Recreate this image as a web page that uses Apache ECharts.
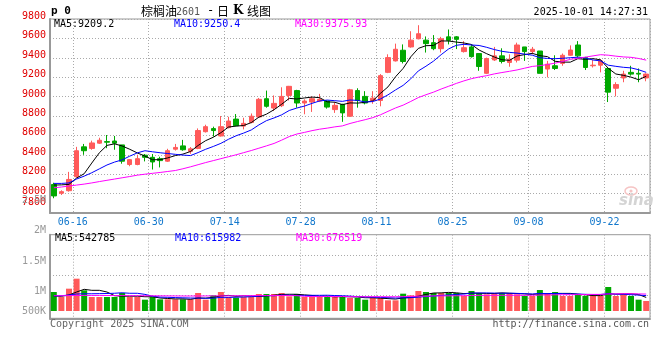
<!DOCTYPE html>
<html><head><meta charset="utf-8">
<script src="https://cdn.jsdelivr.net/npm/echarts@6.0.0/dist/echarts.min.js"></script>
<style>html,body{margin:0;padding:0;background:#fff}#c{width:660px;height:360px}</style>
</head><body><div id="c"></div>
<script>
const dates = ['06-12','06-13','06-16','06-17','06-18','06-19','06-20','06-23','06-24','06-25','06-26','06-27','06-30',
'07-01','07-02','07-03','07-04','07-07','07-08','07-09','07-10','07-11','07-14','07-15','07-16','07-17','07-18','07-21','07-22','07-23','07-24','07-25','07-28','07-29','07-30','07-31',
'08-01','08-04','08-05','08-06','08-07','08-08','08-11','08-12','08-13','08-14','08-15','08-18','08-19','08-20','08-21','08-22','08-25','08-26','08-27','08-28','08-29',
'09-01','09-02','09-03','09-04','09-05','09-08','09-09','09-10','09-11','09-12','09-15','09-16','09-17','09-18','09-19','09-22','09-23','09-24','09-25','09-26','09-29','09-30'];
const dateLabels = ['06-16','06-30','07-14','07-28','08-11','08-25','09-08','09-22'];

const opens  = [8094,8004,8030,8174,8482,8466,8520,8536,8542,8502,8300,8300,8396,8374,8360,8334,8458,8492,8436,8466,8638,8670,8594,8680,8768,8696,8734,8790,8978,8882,8906,9012,9062,8934,8944,8954,8954,8866,8920,8798,9062,9002,8960,8960,9250,9368,9478,9512,9596,9582,9556,9494,9616,9616,9464,9512,9444,9240,9378,9420,9352,9376,9512,9464,9470,9284,9318,9342,9426,9532,9402,9318,9324,9290,9086,9192,9250,9240,9192];
const closes = [7976,8020,8146,8442,8442,8522,8550,8530,8520,8334,8350,8360,8374,8326,8340,8442,8476,8452,8462,8650,8690,8650,8690,8748,8700,8724,8798,8972,8900,8930,9002,9106,8934,8954,8978,8972,8892,8910,8832,9070,8960,8934,8984,9216,9402,9488,9362,9582,9648,9546,9494,9596,9580,9590,9504,9412,9310,9392,9420,9362,9386,9532,9464,9488,9240,9334,9290,9426,9480,9420,9300,9324,9368,9046,9124,9232,9232,9232,9232];
const lows   = [7952,7986,8020,8164,8400,8452,8512,8468,8452,8308,8282,8292,8332,8248,8270,8326,8444,8442,8410,8458,8630,8588,8588,8672,8696,8662,8724,8784,8886,8852,8892,8960,8886,8818,8842,8944,8876,8832,8740,8790,8886,8920,8926,8900,9242,9362,9342,9504,9590,9454,9478,9454,9538,9490,9454,9402,9266,9232,9368,9342,9308,9352,9368,9436,9240,9198,9274,9318,9420,9402,9274,9300,9250,8944,9002,9148,9216,9148,9158];
const highs  = [8112,8034,8224,8482,8512,8546,8576,8604,8594,8502,8356,8400,8408,8408,8380,8462,8512,8554,8480,8672,8710,8690,8800,8792,8820,8782,8826,8986,9062,9012,9096,9110,9070,8972,9002,9028,8960,8944,8926,9080,9086,9056,9056,9232,9436,9546,9538,9674,9736,9620,9634,9616,9692,9624,9572,9538,9444,9402,9512,9498,9436,9556,9512,9512,9470,9368,9426,9444,9528,9572,9410,9376,9386,9290,9148,9266,9318,9290,9240];

const ma5  = [8088,8090,8095,8160,8205,8315,8421,8497,8513,8491,8457,8419,8387,8349,8350,8368,8392,8407,8434,8496,8546,8581,8628,8686,8696,8702,8732,8788,8819,8865,8921,8982,8975,8986,8995,8989,8946,8942,8917,8935,8933,8941,8956,9033,9100,9205,9291,9410,9497,9525,9527,9574,9573,9562,9553,9537,9480,9442,9408,9380,9374,9419,9433,9446,9422,9412,9364,9356,9355,9391,9384,9391,9379,9292,9233,9219,9201,9174,9209];
const ma10 = [8105,8105,8110,8150,8180,8215,8255,8295,8325,8348,8386,8420,8442,8431,8421,8413,8405,8397,8392,8423,8457,8486,8518,8560,8596,8624,8656,8708,8752,8780,8812,8857,8882,8902,8930,8955,8964,8958,8951,8965,8961,8944,8949,8975,9018,9069,9116,9183,9265,9313,9366,9432,9492,9529,9539,9532,9527,9508,9485,9467,9456,9449,9438,9427,9401,9393,9391,9395,9401,9406,9398,9377,9368,9324,9312,9302,9296,9277,9250];
const ma30 = [8060,8068,8078,8088,8098,8110,8124,8137,8150,8163,8176,8190,8200,8209,8218,8228,8238,8256,8276,8298,8320,8340,8360,8380,8400,8422,8444,8468,8492,8517,8551,8588,8614,8631,8649,8664,8675,8688,8698,8723,8743,8762,8783,8812,8848,8883,8912,8950,8990,9019,9046,9078,9107,9136,9162,9185,9202,9216,9234,9248,9261,9275,9293,9311,9319,9331,9345,9362,9384,9395,9407,9420,9432,9427,9417,9409,9405,9393,9376];

// volume in thousands
const volumes = [760,560,893,1293,827,560,560,560,560,720,560,560,453,560,467,467,467,467,467,720,453,627,760,560,533,560,560,680,680,680,720,587,680,560,560,560,600,560,600,520,520,453,560,520,427,427,693,627,800,760,720,720,720,720,600,800,720,667,720,720,720,667,600,600,840,720,760,600,600,680,600,600,600,960,600,680,600,453,400];
const volMa5  = [600,590,640,760,867,827,827,760,613,592,592,592,571,571,520,501,483,486,467,518,515,547,605,624,587,608,595,579,603,632,664,669,669,645,621,589,592,568,576,568,560,531,531,515,496,477,525,539,595,661,720,725,744,728,696,712,712,701,701,725,709,699,685,661,685,685,704,704,704,672,648,616,616,688,672,688,688,659,543];
const volMa10 = [610,610,640,680,690,690,695,700,710,729,709,709,665,592,556,547,537,528,519,519,508,515,546,546,552,561,571,592,613,609,636,632,624,624,627,627,631,619,611,595,575,561,549,545,532,519,528,535,555,579,599,625,641,661,679,716,719,723,715,711,711,705,693,681,705,697,701,695,683,679,667,660,660,696,672,668,652,637,616];
const volMa30 = [610,612,615,620,622,622,622,620,618,616,614,612,610,608,606,604,602,600,600,600,602,604,606,608,610,612,614,616,618,619,618,619,612,587,578,578,580,580,581,574,573,569,573,572,570,569,576,582,593,594,603,606,605,610,612,620,626,625,627,628,628,631,628,629,639,644,649,651,651,656,659,664,665,680,685,694,691,685,677];

const priceMin = 7800, priceMax = 9800, priceStep = 200;
const volTickLabels = ['2.5M','2M','1.5M','1M','500K'];
const maTexts = ['MA5:9209.2','MA10:9250.4','MA30:9375.93'];
const volMaTexts = ['MA5:542785','MA10:615982','MA30:676519'];

// ---- styling ----
const RED = '#ff5a5a', GREEN = '#00a800';
const MA_COLORS = ['#000000','#0000ff','#ff00ff'];
const MONO = '"DejaVu Sans Mono", monospace';
const CJK = '"Noto Sans CJK SC", sans-serif';
const GRIDC = '#aaaaaa', BORDERC = '#999999';
const volLabelY = [200, 230.5, 261, 291, 311];
const maX = [54, 174, 295];

const labelIdx = dateLabels.map(d => dates.indexOf(d));
const dotted = {color: GRIDC, width: 1, type: [1, 2]};

const chart = echarts.init(document.getElementById('c'), null, {renderer: 'canvas'});

const graphics = [];
function txt(text, x, y, fill, font, align) {
  graphics.push({type: 'text', x: x, y: y, silent: true, z: 100,
    style: {text: text, fill: fill, font: font, align: align || 'left', verticalAlign: 'middle'}});
}
txt('p 0', 51, 11, '#000', 'bold 11px ' + MONO);
txt('棕榈油', 141, 11, '#000', '12px ' + CJK);
txt('2601', 176, 12, '#555', '10px ' + MONO);
txt('-', 207, 11, '#000', '12px ' + MONO);
txt('日', 217, 11, '#000', '12px ' + CJK);
txt('K', 233, 11, '#000', 'bold 12px "DejaVu Serif", serif');
txt('线图', 247, 11, '#000', '12px ' + CJK);
txt('2025-10-01 14:27:31', 648, 12, '#000', '10px ' + MONO, 'right');
maTexts.forEach((t, k) => txt(t, maX[k], 24, MA_COLORS[k], '10px ' + MONO));
volMaTexts.forEach((t, k) => txt(t, maX[k] + 1, 238.7, MA_COLORS[k], '10px ' + MONO));
volTickLabels.forEach((t, k) => txt(t, 46, volLabelY[k], '#999', '10px ' + MONO, 'right'));
txt('Copyright 2025 SINA.COM', 50, 324, '#666', '10px ' + MONO);
txt('http://finance.sina.com.cn', 649, 324, '#555', '10px ' + MONO, 'right');
// sina watermark
graphics.push({type: 'ellipse', shape: {cx: 631, cy: 191, rx: 6, ry: 4}, silent: true, z: 1,
  style: {fill: 'none', stroke: '#f6c4c4', lineWidth: 1.5}});
graphics.push({type: 'circle', shape: {cx: 631, cy: 191, r: 1.6}, silent: true, z: 1,
  style: {fill: '#f6c4c4'}});
txt('sina', 619, 201, '#d4d4d4', 'italic bold 15px "DejaVu Sans", sans-serif');

const option = {
  animation: false,
  backgroundColor: '#fff',
  grid: [
    {left: 50, top: 19, width: 600, height: 194, show: true, borderColor: BORDERC, borderWidth: 1},
    {left: 50, top: 235.3, width: 600, height: 80},
    {left: 50, top: 234.7, width: 600, height: 83.6, show: true, borderColor: BORDERC, borderWidth: 1}
  ],
  xAxis: [
    {gridIndex: 0, type: 'category', data: dates, boundaryGap: true,
     axisLine: {lineStyle: {color: BORDERC, width: 2}}, axisTick: {show: false},
     axisLabel: {interval: (i) => labelIdx.includes(i), color: '#1177cc', fontFamily: MONO, fontSize: 10,
                 margin: 4, padding: [0, 0, 0, 7.6]},
     splitLine: {show: true, interval: (i) => labelIdx.includes(i - 1), lineStyle: dotted}},
    {gridIndex: 1, type: 'category', data: dates, boundaryGap: true, show: false},
    {gridIndex: 2, type: 'category', data: dates, boundaryGap: true,
     axisLine: {lineStyle: {color: BORDERC, width: 2}}, axisTick: {show: false}, axisLabel: {show: false},
     splitLine: {show: true, interval: (i) => labelIdx.includes(i - 1), lineStyle: dotted}}
  ],
  yAxis: [
    {gridIndex: 0, type: 'value', min: priceMin, max: priceMax, interval: priceStep,
     axisLine: {show: true, lineStyle: {color: BORDERC, width: 2}}, axisTick: {show: false},
     splitLine: {show: true, lineStyle: dotted},
     axisLabel: {margin: 4, formatter: (v) => (v === priceMin ? '{b|' + v + '}' : '{n|' + v + '}'),
       rich: {n: {color: '#e00000', fontFamily: MONO, fontSize: 10, padding: [0, 0, 5, 0]},
              b: {color: '#e00000', fontFamily: MONO, fontSize: 10, padding: [0, 0, 22, 0]}}}},
    {gridIndex: 1, type: 'value', min: -172, max: 3028, interval: 800,
     axisLine: {show: false}, axisTick: {show: false}, axisLabel: {show: false},
     splitLine: {show: true, showMinLine: false, showMaxLine: false, lineStyle: dotted}},
    {gridIndex: 2, type: 'value', axisLine: {show: true, lineStyle: {color: BORDERC, width: 2}},
     axisTick: {show: false}, axisLabel: {show: false}, splitLine: {show: false}}
  ],
  series: [
    {type: 'candlestick', xAxisIndex: 0, yAxisIndex: 0, barWidth: 5,
     data: opens.map((o, i) => [o, closes[i], lows[i], highs[i]]),
     itemStyle: {color: RED, color0: GREEN, borderColor: RED, borderColor0: GREEN, borderWidth: 1}},
    {type: 'line', xAxisIndex: 0, yAxisIndex: 0, data: ma5, symbol: 'none', lineStyle: {color: MA_COLORS[0], width: 1}},
    {type: 'line', xAxisIndex: 0, yAxisIndex: 0, data: ma10, symbol: 'none', lineStyle: {color: MA_COLORS[1], width: 1}},
    {type: 'line', xAxisIndex: 0, yAxisIndex: 0, data: ma30, symbol: 'none', lineStyle: {color: MA_COLORS[2], width: 1}},
    {type: 'bar', xAxisIndex: 1, yAxisIndex: 1, barWidth: 6,
     data: volumes.map((v, i) => ({value: v, itemStyle: {color: closes[i] >= opens[i] ? RED : GREEN}}))},
    {type: 'line', xAxisIndex: 1, yAxisIndex: 1, data: volMa5, symbol: 'none', lineStyle: {color: MA_COLORS[0], width: 1}},
    {type: 'line', xAxisIndex: 1, yAxisIndex: 1, data: volMa10, symbol: 'none', lineStyle: {color: MA_COLORS[1], width: 1}},
    {type: 'line', xAxisIndex: 1, yAxisIndex: 1, data: volMa30, symbol: 'none', lineStyle: {color: MA_COLORS[2], width: 1}}
  ],
  graphic: graphics
};
chart.setOption(option);
</script>
</body></html>
